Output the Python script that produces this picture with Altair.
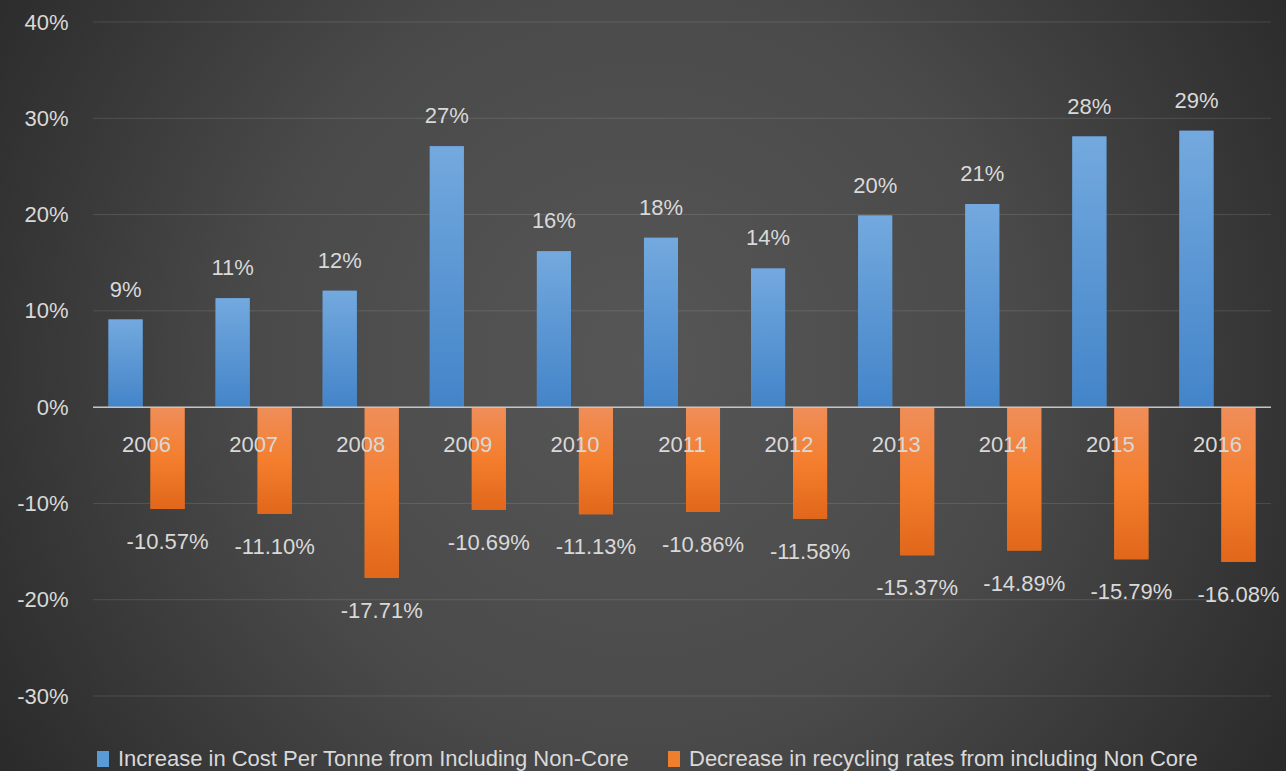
import altair as alt
import pandas as pd

years = ["2006", "2007", "2008", "2009", "2010", "2011", "2012", "2013", "2014", "2015", "2016"]
cost_increase = [0.091, 0.113, 0.121, 0.271, 0.162, 0.176, 0.144, 0.199, 0.211, 0.281, 0.287]
recycling_decrease = [-0.1057, -0.1110, -0.1771, -0.1069, -0.1113, -0.1086,
                      -0.1158, -0.1537, -0.1489, -0.1579, -0.1608]
series_names = ["Increase in Cost Per Tonne from Including Non-Core",
                "Decrease in recycling rates from including Non Core"]
series_colors = ["#5b9bd5", "#f07f2d"]
y_ticks = [-0.3, -0.2, -0.1, 0.0, 0.1, 0.2, 0.3, 0.4]

rows = []
for yr, v in zip(years, cost_increase):
    rows.append({"year": yr, "series": series_names[0], "value": v, "label": f"{v*100:.0f}%"})
for yr, v in zip(years, recycling_decrease):
    rows.append({"year": yr, "series": series_names[1], "value": v, "label": f"{v*100:.2f}%"})
df = pd.DataFrame(rows)

FONT = "Liberation Sans"
TXT = "#d9d9d9"
W, H = 1178, 674

yscale = alt.Scale(domain=[-0.3, 0.4], nice=False, zero=False)
yaxis = alt.Axis(values=y_ticks, format=".0%", title=None, domain=False, ticks=False,
                 tickSize=0, grid=False, labelPadding=25, labelFont=FONT,
                 labelFontSize=22, labelColor=TXT, zindex=1,
                 labelExpr="replace(datum.label, '\u2212', '-')")

xs = alt.X("year:N", sort=years, axis=None,
           scale=alt.Scale(paddingInner=0.29, paddingOuter=0.145))
xo = alt.XOffset("series:N", sort=series_names,
                 scale=alt.Scale(domain=series_names, paddingInner=0.19, paddingOuter=0))
ys = alt.Y("value:Q", axis=yaxis, scale=yscale)

bg = alt.Chart(alt.Data(values=[{"a": 1}])).mark_rect(
    fill={"gradient": "radial", "x1": 0.5, "y1": 0.5, "r1": 0, "x2": 0.5, "y2": 0.5, "r2": 0.5,
          "stops": [{"offset": 0, "color": "#565656"},
                    {"offset": 0.5, "color": "#4a4a4a"},
                    {"offset": 1, "color": "#2a2a2a"}]}
).encode(x=alt.value(-213), x2=alt.value(1307), y=alt.value(-422), y2=alt.value(1098))

grid = alt.Chart(pd.DataFrame({"tick": y_ticks})).mark_rule(
    color="#ffffff", opacity=0.12, strokeWidth=1
).encode(y=alt.Y("tick:Q", scale=yscale, axis=yaxis))

base = alt.Chart(df)

bars_plain = base.mark_bar().encode(
    x=xs, xOffset=xo, y=ys, y2=alt.datum(0),
    color=alt.Color("series:N", sort=series_names,
                    scale=alt.Scale(domain=series_names, range=series_colors),
                    legend=alt.Legend(title=None, orient="none", legendX=-1, legendY=726,
                                      direction="horizontal", columns=2, columnPadding=33,
                                      labelOffset=4, labelFont=FONT, labelFontSize=22,
                                      labelColor=TXT, labelLimit=700,
                                      symbolType="M-0.75,-1H0.75V1H-0.75Z",
                                      symbolSize=256, symbolStrokeWidth=0))
)

blue_grad = {"gradient": "linear", "x1": 0, "y1": 0, "x2": 0, "y2": 1,
             "stops": [{"offset": 0, "color": "#73a9de"}, {"offset": 1, "color": "#4384c9"}]}
orange_grad = {"gradient": "linear", "x1": 0, "y1": 0, "x2": 0, "y2": 1,
               "stops": [{"offset": 0, "color": "#ef8e5a"}, {"offset": 0.5, "color": "#f47e2e"},
                         {"offset": 1, "color": "#e1671a"}]}

bars_blue = base.transform_filter(alt.datum.series == series_names[0]).mark_bar(
    fill=blue_grad).encode(x=xs, xOffset=xo, y=ys, y2=alt.datum(0))
bars_orange = base.transform_filter(alt.datum.series == series_names[1]).mark_bar(
    fill=orange_grad).encode(x=xs, xOffset=xo, y=ys, y2=alt.datum(0))

zero = alt.Chart(alt.Data(values=[{"a": 1}])).mark_rule(color="#c4c4c4", strokeWidth=1.5).encode(
    y=alt.datum(0))

lbl_blue = base.transform_filter(alt.datum.series == series_names[0]).mark_text(
    font=FONT, fontSize=22, color=TXT, baseline="alphabetic", dy=-23
).encode(x=xs, xOffset=xo, y=ys, text="label:N")
lbl_orange = base.transform_filter(alt.datum.series == series_names[1]).mark_text(
    font=FONT, fontSize=22, color=TXT, baseline="alphabetic", dy=40
).encode(x=xs, xOffset=xo, y=ys, text="label:N")
lbl_year = base.transform_filter(alt.datum.series == series_names[0]).mark_text(
    font=FONT, fontSize=22, color=TXT, baseline="alphabetic", dy=45
).encode(x=xs, y=alt.datum(0), text="year:N")

chart = alt.layer(bg, grid, bars_plain, bars_blue, bars_orange, zero,
                  lbl_blue, lbl_orange, lbl_year).properties(
    width=W, height=H,
    autosize=alt.AutoSizeParams(type="none"),
    padding={"left": 93, "top": 22, "right": 15, "bottom": 75},
    background="#2e2e2e",
).configure_view(stroke="transparent")

chart.save("out.html", embed_options={"renderer": "svg", "actions": False})
